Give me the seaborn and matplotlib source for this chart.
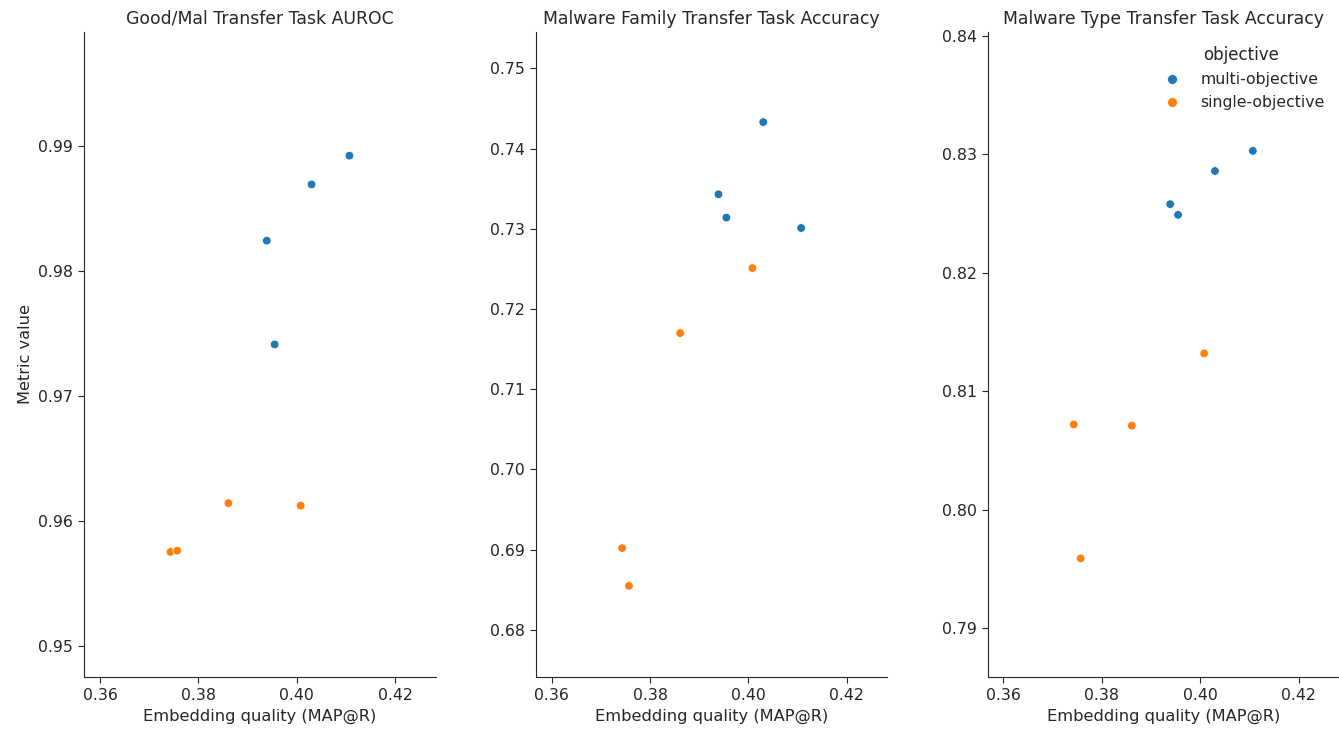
import pandas as pd
import matplotlib.pyplot as plt
from matplotlib.ticker import MultipleLocator
import seaborn as sns

# values
map_r = [0.4107, 0.4030, 0.3939, 0.3955, 0.3861, 0.4008, 0.3743, 0.3757]
objective = ["multi-objective", "multi-objective", "multi-objective", "multi-objective",
             "single-objective", "single-objective", "single-objective", "single-objective"]
goodmal_auroc = [0.9892, 0.9869, 0.9824, 0.9741, 0.9614, 0.9612, 0.9575, 0.9576]
family_acc = [0.7301, 0.7433, 0.7343, 0.7314, 0.7170, 0.7251, 0.6902, 0.6855]
type_acc = [0.8303, 0.8286, 0.8258, 0.8249, 0.8071, 0.8132, 0.8072, 0.7959]

titles = ["Good/Mal Transfer Task AUROC",
          "Malware Family Transfer Task Accuracy",
          "Malware Type Transfer Task Accuracy"]
ylims = [(0.94752, 0.99907), (0.67418, 0.75449), (0.78591, 0.84031)]

df = pd.DataFrame({"map_r": map_r, "objective": objective,
                   "goodmal": goodmal_auroc, "family": family_acc, "type": type_acc})

sns.set_style("ticks")
plt.rcParams["font.family"] = ["DejaVu Sans"]

fig, axes = plt.subplots(1, 3, figsize=(13.39, 7.29), dpi=100)
plt.subplots_adjust(left=0.063, right=1.0, top=0.9557, bottom=0.0718, wspace=0.286)

palette = {"multi-objective": "#1f77b4", "single-objective": "#ff7f0e"}
for i, (ax, col) in enumerate(zip(axes, ["goodmal", "family", "type"])):
    sns.scatterplot(data=df, x="map_r", y=col, hue="objective", palette=palette,
                    ax=ax, legend=(i == 2), s=38)
    ax.set_xlim(0.35681, 0.42822)
    ax.set_ylim(*ylims[i])
    ax.xaxis.set_major_locator(MultipleLocator(0.02))
    ax.yaxis.set_major_locator(MultipleLocator(0.01))
    ax.set_title(titles[i], fontsize=12.4)
    ax.set_xlabel("Embedding quality (MAP@R)", fontsize=11.7)
    ax.set_ylabel("Metric value" if i == 0 else "", fontsize=11.7)
    ax.tick_params(labelsize=11.3, length=4.5)
    sns.despine(ax=ax)

leg = axes[2].legend(title="objective", loc="upper right", frameon=False,
                     fontsize=11.3, title_fontsize=12, markerscale=1.15)

plt.savefig("out.png", dpi=100)
